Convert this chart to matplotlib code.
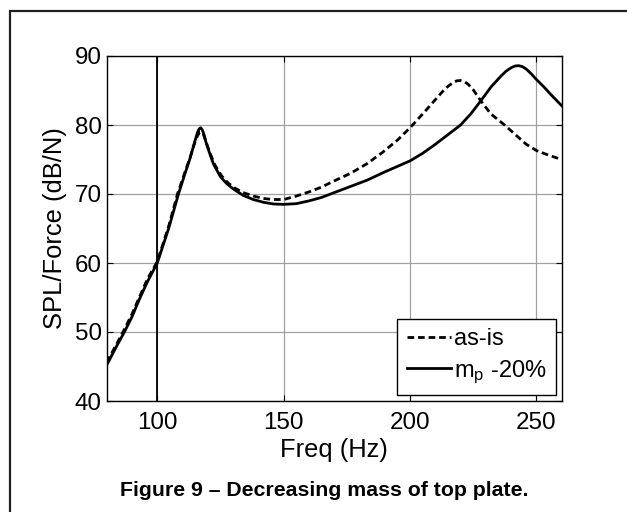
import matplotlib
matplotlib.use("Agg")
import matplotlib.pyplot as plt
from matplotlib.patches import Rectangle

plt.rcParams['font.family'] = ['Liberation Sans', 'DejaVu Sans']
plt.rcParams['mathtext.fontset'] = 'custom'
plt.rcParams['mathtext.rm'] = 'Liberation Sans'
plt.rcParams['mathtext.it'] = 'Liberation Sans:italic'

# --- data ---
freq_mp = [80, 84, 87, 90, 93, 96, 100, 104.5, 108.4, 111, 113, 114, 115, 116, 116.6, 117.2,
           117.8, 118.5, 119.2, 120, 121, 122.3, 125, 127.5, 130.2, 134, 138, 142, 146, 150,
           155, 160, 165, 170, 176.5, 183, 190, 195, 200, 205, 210, 215, 220, 224, 228, 232,
           236, 238, 240, 241.5, 243, 244.5, 246, 248, 250, 253, 256, 260]
spl_mp = [45.2, 48.0, 50.0, 52.2, 54.8, 57.2, 60.0, 65.0, 70.0, 73.0, 75.2, 76.5, 77.8, 79.0, 79.45, 79.6,
          79.3, 78.6, 77.6, 76.7, 75.6, 74.3, 72.5, 71.5, 70.7, 69.8, 69.2, 68.8, 68.55, 68.5,
          68.6, 69.0, 69.5, 70.2, 71.1, 72.0, 73.2, 74.0, 74.8, 75.9, 77.2, 78.6, 80.0, 81.6, 83.5, 85.5,
          87.1, 87.8, 88.3, 88.55, 88.6, 88.45, 88.1, 87.4, 86.6, 85.5, 84.3, 82.8]

freq_asis = [80, 84, 87, 90, 93, 96, 100, 104.5, 108, 111, 113, 114, 115, 116, 116.8, 117.5,
             118.2, 119, 119.8, 121, 122.8, 125.5, 128, 130.5, 134, 138, 142, 146, 150, 155,
             160, 165, 170, 176.5, 183, 189, 195, 200, 205, 209.6, 213, 215, 217, 218.5, 220,
             221.5, 223, 225, 228, 232, 237.4, 242, 246, 250, 255, 260]
spl_asis = [45.6, 48.3, 50.4, 52.6, 55.1, 57.6, 60.2, 65.3, 70.0, 73.2, 75.3, 76.5, 77.6, 78.5, 78.95, 79.0,
            78.7, 77.9, 77.0, 75.8, 74.2, 72.6, 71.6, 70.9, 70.2, 69.7, 69.35, 69.2, 69.2, 69.7,
            70.3, 71.0, 71.9, 73.0, 74.4, 76.0, 77.8, 79.6, 81.6, 83.5, 84.9, 85.6, 86.15, 86.4, 86.45,
            86.3, 85.9, 85.1, 83.5, 81.6, 80.0, 78.5, 77.2, 76.3, 75.6, 75.0]

x_ticks = [100, 150, 200, 250]
y_ticks = [40, 50, 60, 70, 80, 90]
labels = ['as-is', r'm$_{\mathrm{p}}$ -20%']
xlabel = 'Freq (Hz)'
ylabel = 'SPL/Force (dB/N)'
caption = 'Figure 9 \u2013 Decreasing mass of top plate.'

W, H = 627, 512
fig = plt.figure(figsize=(W / 100, H / 100), dpi=100)
ax = fig.add_axes([106.7 / W, 1 - 401 / H, 455 / W, 345 / H])

ax.plot(freq_asis, spl_asis, color='black', lw=2.0, linestyle=(0, (2.4, 1.4)),
        dash_joinstyle='round', label=labels[0])
ax.plot(freq_mp, spl_mp, color='black', lw=2.0, solid_joinstyle='round', label=labels[1])
ax.axvline(100, color='black', lw=1.3, zorder=1.5)

ax.set_xlim(80, 260)
ax.set_ylim(40, 90)
ax.set_xticks(x_ticks)
ax.set_yticks(y_ticks)
ax.grid(True, color='#a0a0a0', lw=0.9)
ax.set_axisbelow(True)
ax.tick_params(direction='in', top=True, right=True, length=4, width=0.8,
               labelsize=17.4)
ax.tick_params(axis='x', pad=8)
ax.tick_params(axis='y', pad=3.5)
for s in ax.spines.values():
    s.set_linewidth(1.0)
ax.set_xlabel(xlabel, fontsize=18.4, labelpad=3)
ax.set_ylabel(ylabel, fontsize=18.4, labelpad=6)

leg = ax.legend(loc='lower right', bbox_to_anchor=(0.9875, 0.0174), fontsize=17,
                frameon=True, fancybox=False, framealpha=1, edgecolor='black',
                handlelength=1.9, handletextpad=0.1, borderpad=0.4, labelspacing=0.33,
                borderaxespad=0)
leg.get_frame().set_linewidth(1.0)

fig.text(324 / W, 1 - 491 / H, caption, ha='center', va='center', fontsize=15.3,
         fontweight='bold')

fig.patches.append(Rectangle((10 / W, -0.1), 1.2, 1.1 - 11 / H, transform=fig.transFigure,
                             fill=False, edgecolor='#202020', lw=1.6, clip_on=False))

fig.savefig('out.png', dpi=100)
